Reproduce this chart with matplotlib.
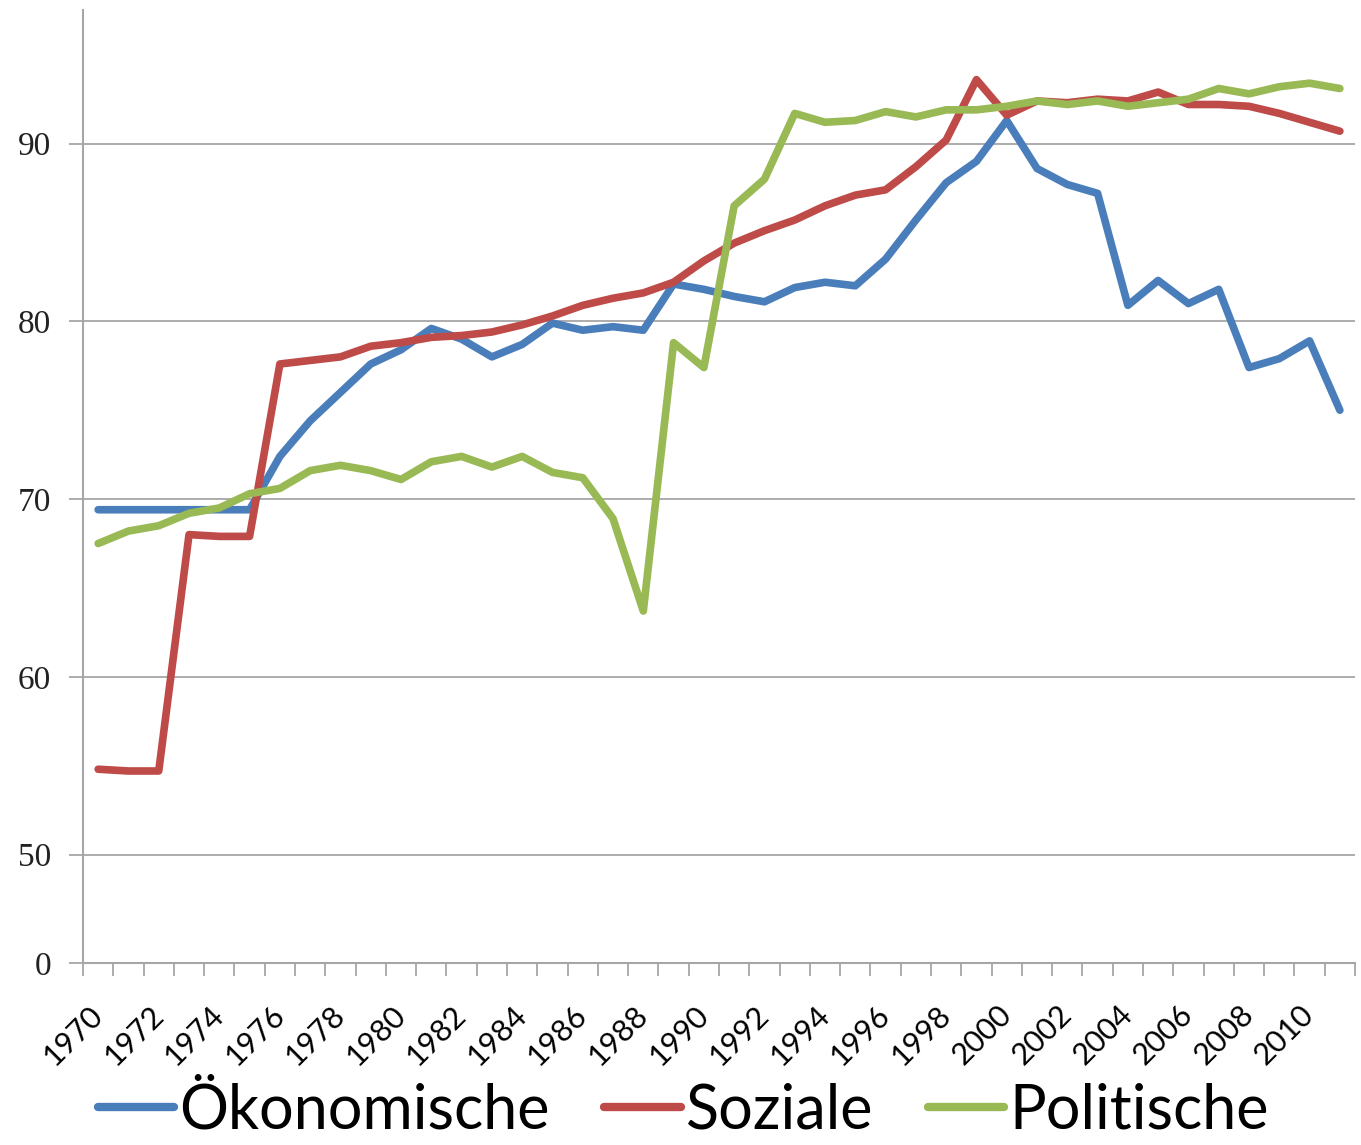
import numpy as np
import matplotlib.pyplot as plt

# Daten (Jahre 1970-2011)
jahre = list(range(1970, 2012))

oekonomische = [69.4, 69.4, 69.4, 69.4, 69.4, 69.4, 72.4, 74.4, 76.0, 77.6,
                78.4, 79.6, 79.0, 78.0, 78.7, 79.9, 79.5, 79.7, 79.5, 82.1,
                81.8, 81.4, 81.1, 81.9, 82.2, 82.0, 83.5, 85.7, 87.8, 89.0,
                91.3, 88.6, 87.7, 87.2, 80.9, 82.3, 81.0, 81.8, 77.4, 77.9,
                78.9, 75.0]

soziale = [54.8, 54.7, 54.7, 68.0, 67.9, 67.9, 77.6, 77.8, 78.0, 78.6,
           78.8, 79.1, 79.2, 79.4, 79.8, 80.3, 80.9, 81.3, 81.6, 82.2,
           83.4, 84.4, 85.1, 85.7, 86.5, 87.1, 87.4, 88.7, 90.2, 93.6,
           91.6, 92.4, 92.3, 92.5, 92.4, 92.9, 92.2, 92.2, 92.1, 91.7,
           91.2, 90.7]

politische = [67.5, 68.2, 68.5, 69.2, 69.5, 70.3, 70.6, 71.6, 71.9, 71.6,
              71.1, 72.1, 72.4, 71.8, 72.4, 71.5, 71.2, 68.9, 63.7, 78.8,
              77.4, 86.5, 88.0, 91.7, 91.2, 91.3, 91.8, 91.5, 91.9, 91.9,
              92.1, 92.4, 92.2, 92.4, 92.1, 92.3, 92.5, 93.1, 92.8, 93.2,
              93.4, 93.1]

namen = ['Ökonomische', 'Soziale', 'Politische']
farben = ['#4A7EBB', '#BE4B48', '#98B954']

# unterbrochene Achse: unterer Rand wird als "0" beschriftet
y_unten = 43.9
y_oben = 97.5
y_ticks = [y_unten, 50, 60, 70, 80, 90]
y_labels = ['0', '50', '60', '70', '80', '90']

fig = plt.figure(figsize=(13.61, 11.45), dpi=100)
ax = fig.add_axes([0.061, 0.159, 0.9346, 0.832])

x = np.arange(len(jahre))
for werte, name, farbe in zip([oekonomische, soziale, politische], namen, farben):
    ax.plot(x, werte, color=farbe, lw=5.5, label=name,
            solid_joinstyle='round', solid_capstyle='round')

ax.set_xlim(-0.5, len(jahre) - 0.5)
ax.set_ylim(y_unten, y_oben)

# Gitterlinien
for yv in y_ticks[1:]:
    ax.axhline(yv, color='#A6A6A6', lw=1.3, zorder=0)

ax.set_yticks(y_ticks)
ax.set_yticklabels(y_labels, fontfamily='Liberation Serif', fontsize=24,
                   color='#222222')
ax.tick_params(axis='y', length=10, width=1.3, color='#A6A6A6', pad=13)

# Kategorieachse: Striche an den Grenzen, Beschriftung in der Mitte
ax.set_xticks(np.arange(-0.5, len(jahre)), minor=False)
ax.set_xticklabels([])
ax.tick_params(axis='x', which='major', length=9, width=1.3,
               color='#A6A6A6', direction='out')
ax.set_xticks(x[::2], minor=True)
ax.set_xticklabels([str(j) for j in jahre[::2]], minor=True, rotation=45,
                   ha='right', va='center', rotation_mode='anchor',
                   fontfamily='Lato', fontsize=22)
ax.tick_params(axis='x', which='minor', length=0, pad=34)

for s in ['top', 'right']:
    ax.spines[s].set_visible(False)
for s in ['left', 'bottom']:
    ax.spines[s].set_color('#A6A6A6')
    ax.spines[s].set_linewidth(1.5)

leg = fig.legend(loc='center', bbox_to_anchor=(0.502, 0.03), ncol=3,
                 frameon=False, prop={'family': 'Lato', 'size': 44},
                 handlelength=1.25, handletextpad=0.08, columnspacing=0.9,
                 borderpad=0.1)
for l in leg.get_lines():
    l.set_linewidth(6)

fig.savefig('out.png', dpi=100)
